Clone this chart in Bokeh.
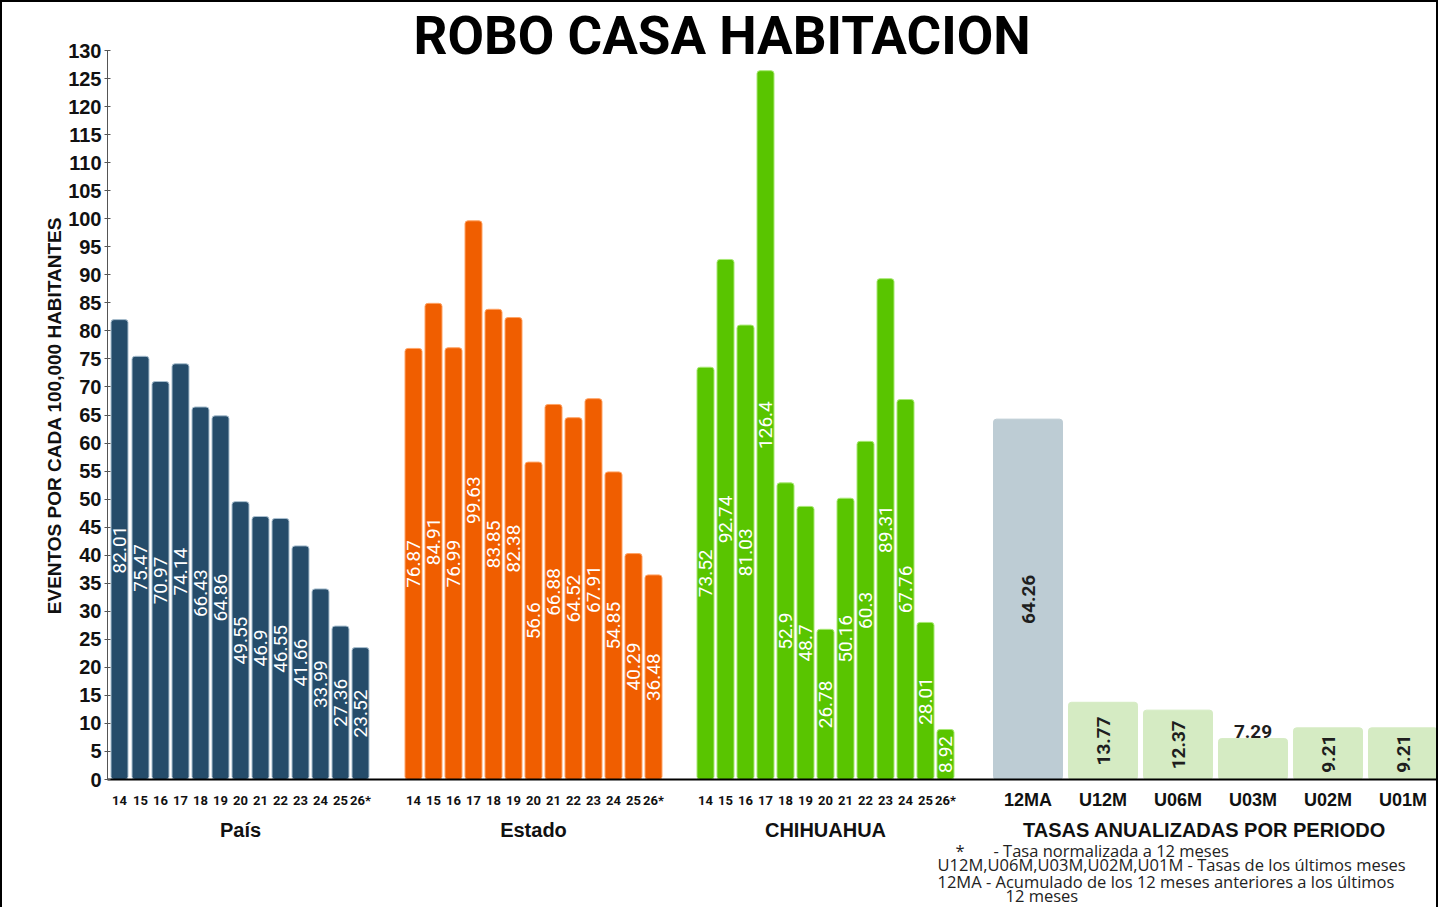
import math
from bokeh.plotting import figure
from bokeh.models import Range1d, LinearAxis, FixedTicker, ColumnDataSource
from bokeh.core.properties import value
from bokeh.embed import file_html
from bokeh.resources import INLINE

# ---------------- data ----------------
years = ["14", "15", "16", "17", "18", "19", "20", "21", "22", "23", "24", "25", "26*"]
pais = [82.01, 75.47, 70.97, 74.14, 66.43, 64.86, 49.55, 46.9, 46.55, 41.66, 33.99, 27.36, 23.52]
estado = [76.87, 84.91, 76.99, 99.63, 83.85, 82.38, 56.6, 66.88, 64.52, 67.91, 54.85, 40.29, 36.48]
chihuahua = [73.52, 92.74, 81.03, 126.4, 52.9, 48.7, 26.78, 50.16, 60.3, 89.31, 67.76, 28.01, 8.92]
group_names = ["País", "Estado", "CHIHUAHUA"]
group_colors = ["#254C6A", "#F05E00", "#59C500"]
group_edges = ["#A9BFCF", "#FFA466", "#A8E874"]

tasas_cats = ["12MA", "U12M", "U06M", "U03M", "U02M", "U01M"]
tasas_vals = [64.26, 13.77, 12.37, 7.29, 9.21, 9.21]
tasas_colors = ["#BDCCD4", "#D5EBC3", "#D5EBC3", "#D5EBC3", "#D5EBC3", "#D5EBC3"]
tasas_group = "TASAS ANUALIZADAS POR PERIODO"

title_text = "ROBO CASA HABITACION"
y_title = "EVENTOS POR CADA 100,000 HABITANTES"
y_ticks = list(range(0, 131, 5))
notes = [
    "*",
    "- Tasa normalizada a 12 meses",
    "U12M,U06M,U03M,U02M,U01M - Tasas de los últimos meses",
    "12MA  - Acumulado de los 12 meses anteriores a los últimos",
    "12 meses",
]

# ---------------- layout helpers (screen placement only) ----------------
ORIGIN = 2            # canvas origin on page (after css border)
W, H = 1438, 907
FRAME_BOTTOM = 779.0  # page y of value 0
PX_PER_UNIT = 729.0 / 130.0
X0 = 107.0            # page x of data x = 0


def dx(page_x):
    return page_x - X0


def dy(page_y):
    return (FRAME_BOTTOM - page_y) / PX_PER_UNIT


group_starts = [12.5, 305.5, 597.5]
pitch = 20.07
bar_w = 17
tasas_start = 920.5
tasas_pitch = 75
tasas_w = 69

series = [pais, estado, chihuahua]

p = figure(width=W, height=H,
           x_range=Range1d(dx(ORIGIN), dx(ORIGIN + W)),
           y_range=Range1d(dy(ORIGIN + H), dy(ORIGIN)),
           output_backend="svg", toolbar_location=None, min_border=0)
p.styles = {"border-left": "2px solid black", "border-top": "2px solid black",
            "border-right": "2px solid black"}
p.xgrid.visible = False
p.ygrid.visible = False
p.outline_line_color = None
p.background_fill_color = "white"
p.border_fill_color = "white"

year_ticks = []
year_overrides = {}
group_centers = []
group_overrides = {}

for gi, vals in enumerate(series):
    xs = [int(round(group_starts[gi] + i * pitch)) for i in range(len(vals))]
    src = ColumnDataSource(dict(x=xs, top=vals, mid=[v / 2 for v in vals],
                                lab=[str(v) for v in vals]))
    p.vbar(x="x", top="top", bottom=0, width=bar_w, source=src,
           fill_color=group_colors[gi], line_color=group_edges[gi], line_width=1,
           border_radius=3)
    p.text(x="x", y="mid", text="lab", source=src, angle=math.pi / 2,
           text_align="center", text_baseline="middle", text_color="white",
           text_font=value("Roboto"), text_font_size="19px")
    for i, x in enumerate(xs):
        year_ticks.append(x)
        year_overrides[x] = years[i]
    c = int(round(sum(xs) / len(xs)))
    group_centers.append(c)
    group_overrides[c] = group_names[gi]

# tasas bars
t_xs = [tasas_start + j * tasas_pitch for j in range(len(tasas_vals))]
p.vbar(x=t_xs, top=tasas_vals, bottom=0, width=tasas_w, fill_color=tasas_colors,
       line_color=tasas_colors, line_width=1, border_radius=3)

in_x, in_y, in_t = [], [], []
out_x, out_y, out_t = [], [], []
for x, v in zip(t_xs, tasas_vals):
    if v < 8:
        out_x.append(x); out_y.append(v); out_t.append(str(v))
    else:
        in_x.append(x); in_y.append(v / 2); in_t.append(str(v))
p.text(x=in_x, y=in_y, text=in_t, angle=math.pi / 2, text_align="center",
       text_baseline="middle", text_color="#1E1E1E", text_font=value("Roboto"),
       text_font_style="bold", text_font_size="19px")
p.text(x=out_x, y=out_y, text=out_t, text_align="center", text_baseline="bottom",
       y_offset=-1, text_color="#1E1E1E", text_font=value("Roboto"),
       text_font_style="bold", text_font_size="19px")

# tasas category labels (same row as year labels)
p.text(x=t_xs, y=[0] * len(t_xs), text=tasas_cats, y_offset=20, text_align="center",
       text_baseline="middle", text_color="#111111", text_font=value("Liberation Sans"),
       text_font_style="bold", text_font_size="18px")

tc = int(round(sum(t_xs) / len(t_xs))) - 11
group_centers.append(tc)
group_overrides[tc] = tasas_group

# main x axis (years) fixed at zero
xa = p.xaxis[0]
xa.fixed_location = 0
xa.bounds = (0, dx(ORIGIN + W))
xa.ticker = FixedTicker(ticks=year_ticks)
xa.major_label_overrides = year_overrides
xa.major_tick_line_color = None
xa.minor_tick_line_color = None
xa.major_tick_out = 0
xa.major_tick_in = 0
xa.axis_line_color = "black"
xa.axis_line_width = 2
xa.major_label_standoff = 13
xa.major_label_text_font = "Roboto"
xa.major_label_text_font_style = "bold"
xa.major_label_text_font_size = "13px"
xa.major_label_text_color = "#111111"

# group axis
ga = LinearAxis(ticker=FixedTicker(ticks=group_centers), major_label_overrides=group_overrides,
                fixed_location=0,
                axis_line_color=None, major_tick_line_color=None, minor_tick_line_color=None,
                major_tick_out=0, major_tick_in=0, major_label_standoff=39,
                major_label_text_font="Liberation Sans", major_label_text_font_style="bold",
                major_label_text_font_size="20px", major_label_text_color="#111111")
p.add_layout(ga, "below")

# y axis fixed at x = 0
ya = p.yaxis[0]
ya.fixed_location = 0
ya.bounds = (0, 130)
ya.ticker = FixedTicker(ticks=y_ticks)
ya.minor_tick_line_color = None
ya.major_tick_out = 3
ya.major_tick_in = 3
ya.major_tick_line_color = "#555555"
ya.axis_line_color = "#555555"
ya.major_label_standoff = 3
ya.major_label_text_font = "Liberation Sans"
ya.major_label_text_font_style = "bold"
ya.major_label_text_font_size = "20px"
ya.major_label_text_color = "#111111"

# inward ticks on the right border
right_x = dx(ORIGIN + W)
p.segment(x0=[right_x - 4] * len(y_ticks), x1=[right_x] * len(y_ticks),
          y0=y_ticks, y1=y_ticks, line_color="#555555", line_width=1)

# y title
p.text(x=[dx(54)], y=[dy(415)], text=[y_title], angle=math.pi / 2, text_align="center",
       text_baseline="middle", text_font=value("Liberation Sans"), text_font_style="bold",
       text_font_size="19px", text_color="#111111")

# title
p.text(x=[dx(721.5)], y=[dy(4)], text=[title_text], text_align="center",
       text_baseline="top", text_font=value("Roboto"), text_font_style="bold",
       text_font_size="53px", text_color="black")

# footnotes
note_x = [dx(955), dx(993), dx(937), dx(937), dx(1005)]
note_y = [dy(850), dy(850), dy(864), dy(881), dy(895)]
p.text(x=note_x, y=note_y, text=notes, text_align="left", text_baseline="middle",
       text_font=value("Open Sans"), text_font_size="16.5px", text_color="#222222")

open("out.html", "w").write(file_html(p, INLINE))
